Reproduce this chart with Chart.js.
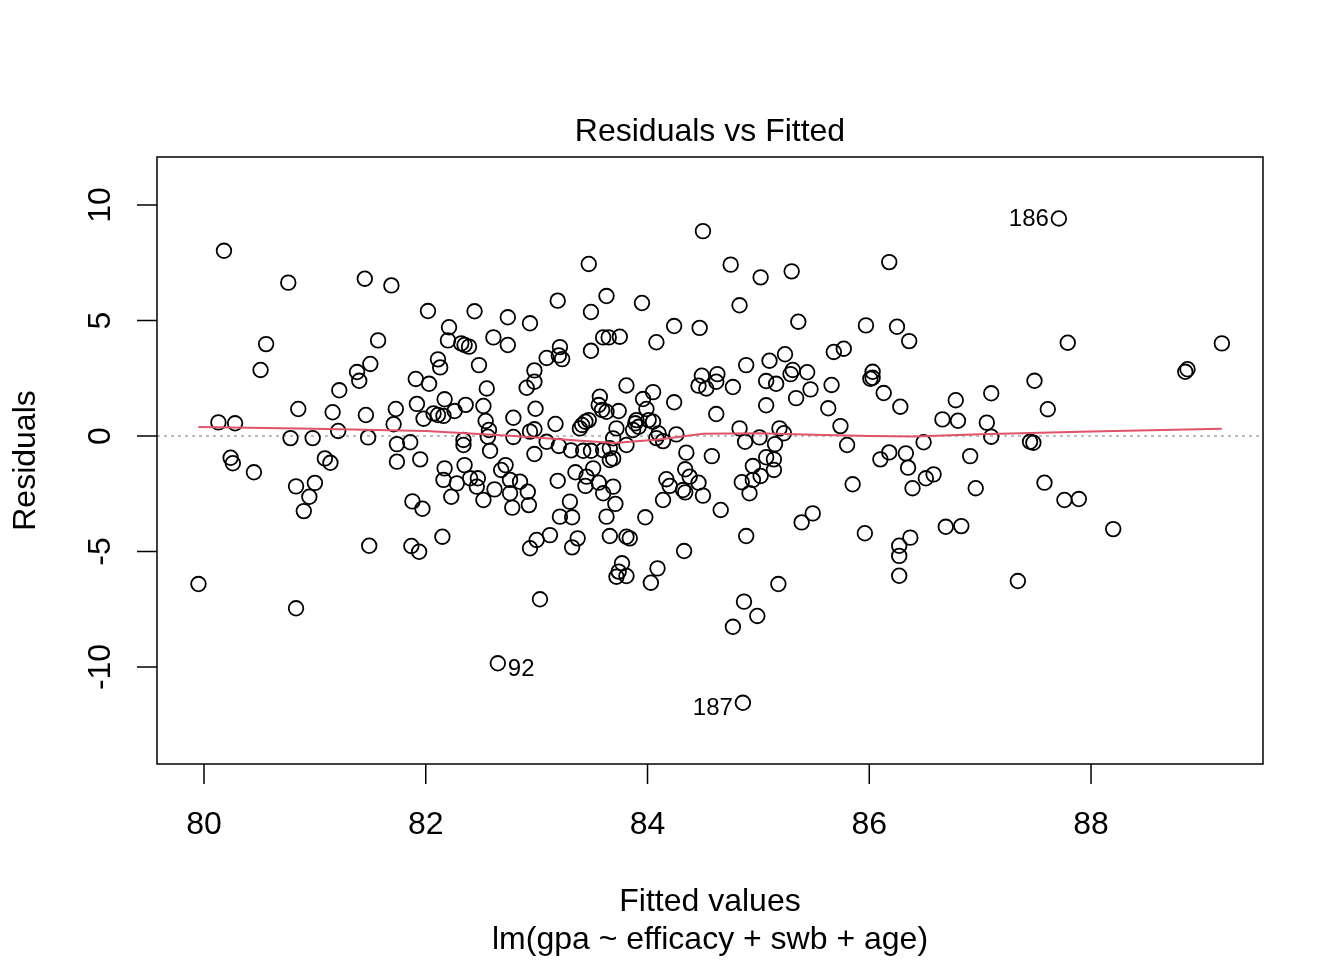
<!DOCTYPE html>
<html>
<head>
<meta charset="utf-8">
<script src="https://cdn.jsdelivr.net/npm/chart.js@4.4.1/dist/chart.umd.min.js"></script>
<style>
  html, body { margin: 0; padding: 0; background: #fff; }
  #wrap { width: 1344px; height: 960px; position: relative; }
</style>
</head>
<body>
<div id="wrap"><canvas id="rvf"></canvas></div>
<script>
var fitted = [
  79.95, 80.13, 80.18, 80.24, 80.26, 80.28, 80.45, 80.51, 80.56, 80.76,
  80.78, 80.83, 80.83, 80.85, 80.90, 80.95, 80.98, 81.00, 81.09, 81.14,
  81.16, 81.21, 81.22, 81.38, 81.40, 81.45, 81.46, 81.48, 81.49, 81.50,
  81.57, 81.69, 81.71, 81.73, 81.74, 81.74, 81.86, 81.87, 81.88, 81.91,
  81.92, 81.94, 81.95, 81.97, 81.98, 82.02, 82.03, 82.07, 82.11, 82.11,
  82.13, 82.15, 82.17, 82.17, 82.16, 82.16, 82.23, 82.21, 82.20, 82.26,
  82.28, 82.32, 82.35, 82.39, 82.34, 82.34, 82.35, 82.36, 82.40, 82.44,
  82.46, 82.47, 82.48, 82.52, 82.52, 82.54, 82.55, 82.56, 82.57, 82.58,
  82.61, 82.62, 82.65, 82.68, 82.72, 82.74, 82.74, 82.76, 82.76, 82.78,
  82.79, 82.79, 82.85, 82.91, 82.92, 82.93, 82.94, 82.94, 82.94, 82.98,
  82.98, 82.98, 82.98, 82.99, 83.00, 83.03, 83.09, 83.09, 83.12, 83.17,
  83.19, 83.19, 83.20, 83.20, 83.21, 83.21, 83.23, 83.30, 83.31, 83.32,
  83.32, 83.35, 83.37, 83.39, 83.41, 83.44, 83.47, 83.42, 83.44, 83.45,
  83.47, 83.49, 83.49, 83.49, 83.51, 83.56, 83.56, 83.57, 83.59, 83.60,
  83.60, 83.60, 83.63, 83.63, 83.63, 83.65, 83.66, 83.66, 83.69, 83.66,
  83.69, 83.69, 83.71, 83.72, 83.72, 83.74, 83.75, 83.74, 83.77, 83.81,
  83.81, 83.81, 83.81, 83.84, 83.87, 83.90, 83.89, 83.92, 83.95, 83.96,
  83.99, 83.98, 84.01, 84.03, 84.05, 84.05, 84.08, 84.08, 84.09, 84.10,
  84.14, 84.14, 84.17, 84.20, 84.24, 84.24, 84.26, 84.32, 84.33, 84.34,
  84.34, 84.35, 84.38, 84.46, 84.46, 84.47, 84.49, 84.50, 84.50, 84.53,
  84.58, 84.62, 84.62, 84.63, 84.66, 84.75, 84.77, 84.77, 84.83, 84.83,
  84.85, 84.86, 84.87, 84.88, 84.89, 84.89, 84.92, 84.95, 84.95, 84.99,
  85.01, 85.02, 85.02, 85.07, 85.07, 85.07, 85.10, 85.14, 85.14, 85.15,
  85.16, 85.18, 85.19, 85.23, 85.24, 85.29, 85.30, 85.31, 85.34, 85.36,
  85.39, 85.44, 85.47, 85.49, 85.63, 85.66, 85.68, 85.74, 85.77, 85.80,
  85.85, 85.96, 85.97, 86.01, 86.03, 86.03, 86.10, 86.13, 86.18, 86.18,
  86.25, 86.27, 86.27, 86.27, 86.28, 86.33, 86.35, 86.36, 86.37, 86.39,
  86.49, 86.51, 86.58, 86.66, 86.69, 86.78, 86.80, 86.83, 86.91, 86.96,
  87.06, 87.10, 87.10, 87.34, 87.45, 87.48, 87.49, 87.58, 87.61, 87.71,
  87.76, 87.79, 87.89, 88.20, 88.85, 88.87, 89.18
]
var residuals = [
  -6.41, 0.59, 8.02, -0.94, -1.18, 0.55, -1.57, 2.86, 3.98, 6.64,
  -0.09, -2.18, -7.46, 1.17, -3.25, -2.63, -0.09, -2.03, -0.97, -1.16,
  1.03, 0.22, 1.98, 2.77, 2.39, 6.81, 0.91, -0.06, -4.75, 3.12,
  4.14, 6.52, 0.51, 1.17, -0.35, -1.11, -0.27, -4.76, -2.83, 2.47,
  1.39, -5.01, -1.01, -3.15, 0.75, 5.41, 2.26, 0.98, 3.32, 0.91,
  2.97, -4.36, 1.59, -1.40, -1.90, 0.87, -2.63, 4.71, 4.14, 1.08,
  -2.05, 4.01, 3.94, 3.87, -0.17, -0.39, -1.26, 1.35, -1.83, 5.40,
  -2.19, -1.83, 3.07, 1.30, -2.77, 0.65, 2.06, -0.03, 0.26, -0.64,
  4.27, -2.31, -9.84, -1.47, -1.26, 3.94, 5.14, -1.90, -2.48, -3.10,
  0.79, -0.04, -1.98, 2.09, -2.41, -2.99, 0.19, 4.88, -4.86, 2.35,
  2.84, 0.29, -0.78, 1.18, -4.50, -7.07, 3.38, -0.25, -4.29, 0.52,
  -1.94, 5.86, -0.43, 3.49, 3.85, -3.49, 3.33, -2.84, -0.62, -3.52,
  -4.82, -1.57, -4.43, 0.33, 0.48, 0.62, 0.69, -0.64, -2.16, -1.76,
  7.45, 5.37, 3.69, -0.64, -1.40, 1.34, -2.02, 1.70, 1.13, 4.27,
  -2.48, -0.61, 1.05, -3.49, 6.06, 4.27, -0.53, -1.04, -0.97, -4.33,
  -0.10, -2.19, -2.94, 0.33, -6.09, -5.87, 4.30, 1.08, -5.51, 2.19,
  -0.39, -4.36, -6.06, -4.43, 0.26, 0.69, 0.55, 0.40, 5.76, 1.60,
  1.17, -3.52, 0.69, -6.35, 0.62, 1.90, -0.09, 4.06, -5.73, 0.11,
  -0.22, -2.77, -1.87, -2.16, 4.76, 1.46, 0.07, -2.34, -4.98, -1.44,
  -2.44, -0.72, -1.76, 2.18, -2.02, 4.68, 2.61, -2.58, 8.87, 2.06,
  -0.87, 2.35, 0.95, 2.68, -3.20, 7.42, 2.12, -8.26, 5.66, 0.33,
  -2.00, -11.55, -7.17, -0.25, 3.07, -4.33, -2.48, -1.30, -1.90, -7.79,
  -0.06, -1.73, 6.87, 2.38, 1.33, -0.92, 3.26, -1.01, -1.47, -0.35,
  2.26, -6.41, 0.33, 0.12, 3.54, 2.68, 7.13, 2.86, 1.64, 4.95,
  -3.74, 2.76, 2.02, -3.35, 1.20, 2.21, 3.64, 0.43, 3.78, -0.39,
  -2.09, -4.21, 4.79, 2.48, 2.52, 2.78, -1.01, 1.86, -0.71, 7.53,
  4.73, -4.75, -5.19, -6.05, 1.27, -0.75, -1.37, 4.11, -4.40, -2.26,
  -0.27, -1.83, -1.66, 0.72, -3.93, 1.55, 0.66, -3.90, -0.87, -2.26,
  0.58, 1.85, -0.03, -6.28, -0.25, -0.29, 2.39, -2.02, 1.16, 9.42,
  -2.77, 4.04, -2.73, -4.03, 2.78, 2.89, 4.01
]

// red smoother
var smoothX = [79.95, 81.0, 82.0, 82.8, 83.4, 83.7, 84.1, 84.5, 85.0, 85.5, 86.0, 86.4, 87.0, 88.0, 89.18]
var smoothY = [0.39, 0.32, 0.22, 0.0, -0.2, -0.3, -0.15, 0.1, 0.12, 0.06, 0.0, -0.02, 0.08, 0.2, 0.32]

// labelled observations (id, fitted value of the point)
var labelIds = ['186', '92', '187']
var labelFitted = [87.71, 82.65, 84.86]

var xTicks = [80, 82, 84, 86, 88]
var yTicks = [-10, -5, 0, 5, 10]

var mainTitle = 'Residuals vs Fitted'
var xTitle = 'Fitted values'
var subTitle = 'lm(gpa ~ efficacy + swb + age)'
var yTitle = 'Residuals'

var FONT = '"Liberation Sans", Arial, Helvetica, sans-serif'

var points = fitted.map(function (v, i) { return { x: v, y: residuals[i] } })
var smooth = smoothX.map(function (v, i) { return { x: v, y: smoothY[i] } })

const rPlotDecor = {
  id: 'rPlotDecor',
  beforeDatasetsDraw(chart) {
    // dotted zero reference line
    const ctx = chart.ctx, a = chart.chartArea, ys = chart.scales.y
    const py = ys.getPixelForValue(0)
    ctx.save()
    ctx.strokeStyle = '#bebebe'
    ctx.lineWidth = 2
    ctx.setLineDash([3, 4])
    ctx.beginPath()
    ctx.moveTo(a.left, py)
    ctx.lineTo(a.right, py)
    ctx.stroke()
    ctx.restore()
  },
  afterDraw(chart) {
    const ctx = chart.ctx, a = chart.chartArea
    const xs = chart.scales.x, ys = chart.scales.y
    ctx.save()
    ctx.strokeStyle = '#000'
    ctx.lineWidth = 1.5
    ctx.strokeRect(a.left, a.top, a.right - a.left, a.bottom - a.top)

    ctx.beginPath()
    xTicks.forEach(v => {
      let px = xs.getPixelForValue(v)
      ctx.moveTo(px, a.bottom)
      ctx.lineTo(px, a.bottom + 20)
    })
    yTicks.forEach(v => {
      let py = ys.getPixelForValue(v)
      ctx.moveTo(a.left, py)
      ctx.lineTo(a.left - 20, py)
    })
    ctx.stroke()

    ctx.fillStyle = '#000'
    ctx.font = '32px ' + FONT
    ctx.textAlign = 'center'
    ctx.textBaseline = 'middle'
    xTicks.forEach(v => ctx.fillText(String(v), xs.getPixelForValue(v), 825))
    yTicks.forEach(v => {
      ctx.save()
      ctx.translate(101, ys.getPixelForValue(v))
      ctx.rotate(-Math.PI / 2)
      ctx.fillText(String(v), 0, 0)
      ctx.restore()
    })

    let cx = (a.left + a.right) / 2
    ctx.fillText(mainTitle, cx, 132)
    ctx.fillText(xTitle, cx, 902)
    ctx.fillText(subTitle, cx, 940)
    ctx.save()
    ctx.translate(26, (a.top + a.bottom) / 2)
    ctx.rotate(-Math.PI / 2)
    ctx.fillText(yTitle, 0, 0)
    ctx.restore()

    // id labels: left of the point when it sits in the right half, like plot.lm
    let mid = (Math.min(...fitted) + Math.max(...fitted)) / 2
    ctx.font = '24px ' + FONT
    labelIds.forEach((id, k) => {
      let i = fitted.indexOf(labelFitted[k])
      if (i < 0) return
      let px = xs.getPixelForValue(fitted[i])
      let py = ys.getPixelForValue(residuals[i])
      let left = fitted[i] > mid
      ctx.textAlign = left ? 'right' : 'left'
      ctx.fillText(id, left ? px - 10 : px + 10, residuals[i] < 0 ? py + 6 : py + 1)
    })
    ctx.restore()
  }
}

new Chart(document.getElementById('rvf'), {
  type: 'scatter',
  data: {
    datasets: [
      {
        type: 'line',
        data: smooth,
        borderColor: '#DF536B',
        borderWidth: 2,
        pointRadius: 0,
        tension: 0,
        fill: false
      },
      {
        data: points,
        pointStyle: 'circle',
        pointRadius: 7.3,
        pointBorderWidth: 1.8,
        pointBorderColor: '#000',
        pointBackgroundColor: 'rgba(0,0,0,0)'
      }
    ]
  },
  options: {
    responsive: true,
    maintainAspectRatio: false,
    animation: false,
    events: [],
    layout: { padding: { left: 157, right: 81, top: 157, bottom: 196 } },
    scales: {
      x: { type: 'linear', display: false, min: 79.576, max: 89.551 },
      y: { type: 'linear', display: false, min: -14.2, max: 12.08 }
    },
    plugins: {
      legend: { display: false },
      title: { display: false },
      tooltip: { enabled: false }
    }
  },
  plugins: [rPlotDecor]
})
</script>
</body>
</html>
